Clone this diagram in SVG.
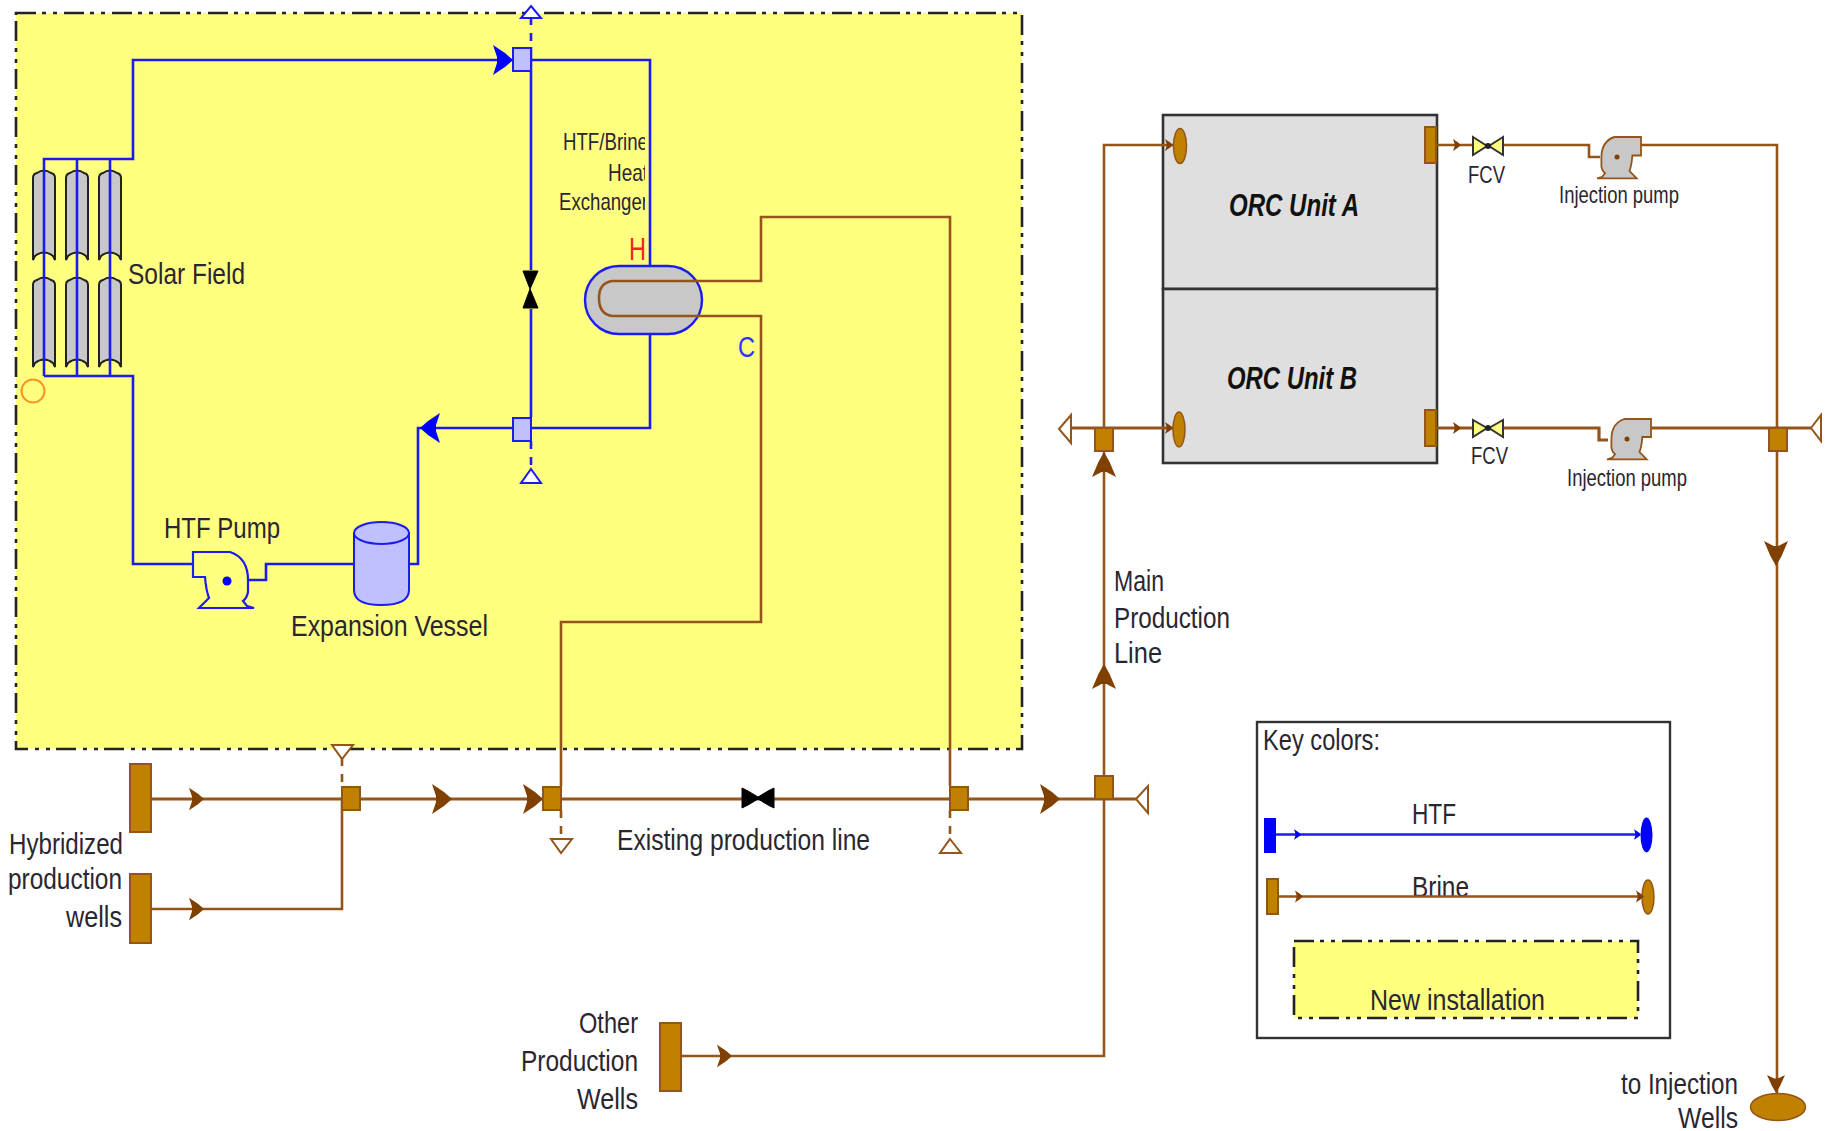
<svg xmlns="http://www.w3.org/2000/svg" xmlns:xlink="http://www.w3.org/1999/xlink" width="1827" height="1131" viewBox="0 0 1827 1131">
<style>
text{font-family:"Liberation Sans",Arial,sans-serif;font-size:30px;fill:#2a2630;}
.sm{font-size:24px;}
.orc{font-size:32px;font-weight:bold;font-style:italic;fill:#111;}
.region{fill:#ffff80;stroke:#222;stroke-width:2.6;stroke-dasharray:20 6 4 7 4 7;}
.b{fill:none;stroke:#1c1cf0;stroke-width:2.6;}
.r{fill:none;stroke:#94551a;stroke-width:2.6;}
.rm{fill:none;stroke:#94551a;stroke-width:3.2;}
.bd{stroke-dasharray:8 8;}
.sqb{fill:#c0c0ff;stroke:#1c1cf0;stroke-width:2;}
.sqr{fill:#c08000;stroke:#94551a;stroke-width:2;}
.well{fill:#c08000;stroke:#94551a;stroke-width:1.5;}
.tb{fill:#fff;stroke:#1c1cf0;stroke-width:2;}
.tr{fill:#fff;stroke:#94551a;stroke-width:2;}
.ab{fill:#0000ff;}
.ar{fill:#804000;}
.col{fill:#c8c8c8;stroke:#222;stroke-width:2;}
.unit{fill:#dfdfdf;stroke:#333;stroke-width:2.6;}
.vk{fill:#000;stroke:#000;stroke-width:1;}
.fcv{fill:#ffff80;stroke:#333;stroke-width:2;}
</style>
<defs>
<path id="arrow" d="M0,0 L-8,-7 L-20,-15 L-16,-3 L-16,3 L-20,15 L-8,7 Z"/>
<path id="collector" d="M0,90 V8 Q0,4 4,3 Q11,-2 18,3 Q22,4 22,8 V90 L20,86 Q11,79 2,86 Z"/>
<path id="pump" d="M0,0 H37 Q55,6 55,28 V40 Q54,46 50,49 L54,54 L61,56 H6 L16,46 Q13,38 12,25 H0 Z"/>
<clipPath id="hxLabelClip"><rect x="540" y="125" width="105" height="100"/></clipPath>
</defs>

<g id="new-installation"><rect class="region" x="16" y="13" width="1006" height="736"/></g>

<g id="solar-field">
<use class="col" href="#collector" x="33" y="170"/>
<use class="col" href="#collector" x="66" y="170"/>
<use class="col" href="#collector" x="99" y="170"/>
<use class="col" href="#collector" x="33" y="277"/>
<use class="col" href="#collector" x="66" y="277"/>
<use class="col" href="#collector" x="99" y="277"/>
</g>
<g id="heat-exchanger"><rect x="585" y="266" width="117" height="68" rx="34" ry="34" fill="#c8c8c8" stroke="#1c1cf0" stroke-width="2.4"/></g>
<g id="orc-unit-a"><rect class="unit" x="1163" y="115" width="274" height="174"/></g>
<g id="orc-unit-b"><rect class="unit" x="1163" y="289" width="274" height="174"/></g>
<g id="legend-box"><rect x="1257" y="722" width="413" height="316" fill="#fff" stroke="#333" stroke-width="2.4"/></g>

<g id="connectors">
<path class="b" d="M44,376 V159 H133 V60 H512"/>
<path class="b" d="M77,159 V376 M110,159 V376"/>
<path class="b" d="M44,376 H133 V564 H193"/>
<path class="b" d="M248,580 H266 V564 H354"/>
<path class="b" d="M409,564 H418 V428 H512"/>
<path class="b" d="M531,60 H650 V266"/>
<path class="b" d="M650,334 V428 H531"/>
<path class="b" d="M531,47 V270 M531,309 V417"/>
<path class="b bd" d="M531,17 V47 M531,441 V468"/>
<path class="r" d="M703,281 H612 Q599,283 599,298 Q599,314 612,316 H703"/>
<path class="r" d="M703,281 H761 V217 H950 V786"/>
<path class="r" d="M703,316 H761 V622 H561 V786"/>
<path class="rm" d="M152,799 H1136"/>
<path class="r" d="M152,909 H342 V799"/>
<path class="r bd" d="M342,758 V786 M561,810 V838 M950,810 V838"/>
<path class="r" d="M681,1056 H1104 V451"/>
<path class="r" d="M1104,428 V145 H1173"/>
<path class="rm" d="M1071,428 H1173"/>
<path class="r" d="M1437,145 H1472 M1503,145 H1589 V157 H1600"/>
<path class="r" d="M1641,145 H1777 V1093"/>
<path class="rm" d="M1437,428 H1472 M1503,428 H1599 V440 H1608"/>
<path class="rm" d="M1650,428 H1811"/>
</g>

<g id="arrowheads">
<use class="ab" href="#arrow" transform="translate(513,60)"/>
<use class="ab" href="#arrow" transform="translate(420,428) rotate(180)"/>
<use class="ar" href="#arrow" transform="translate(204,799) scale(.75)"/>
<use class="ar" href="#arrow" transform="translate(204,909) scale(.75)"/>
<use class="ar" href="#arrow" transform="translate(452,799)"/>
<use class="ar" href="#arrow" transform="translate(543,799)"/>
<use class="ar" href="#arrow" transform="translate(1060,799)"/>
<use class="ar" href="#arrow" transform="translate(732,1056) scale(.75)"/>
<use class="ar" href="#arrow" transform="translate(1104,664) rotate(-90) scale(1.25,.8)"/>
<use class="ar" href="#arrow" transform="translate(1104,452) rotate(-90) scale(1.25,.8)"/>
<use class="ar" href="#arrow" transform="translate(1776,566) rotate(90) scale(1.25,.8)"/>
<use class="ar" href="#arrow" transform="translate(1776,1093) rotate(90) scale(.9,.6)"/>
<use class="ar" href="#arrow" transform="translate(1173,145) scale(.4)"/>
<use class="ar" href="#arrow" transform="translate(1173,428) scale(.4)"/>
<use class="ar" href="#arrow" transform="translate(1461,145) scale(.4)"/>
<use class="ar" href="#arrow" transform="translate(1461,428) scale(.4)"/>
</g>

<g id="labelled-sensor"><circle cx="33" cy="391" r="11.500" fill="none" stroke="#ff9020" stroke-width="2"/></g>
<g id="htf-pump"><use href="#pump" transform="translate(193,552)" fill="#ffff80" stroke="#1c1cf0" stroke-width="2.200"/><circle cx="227" cy="581" r="4.500" fill="#0000ff"/></g>
<g id="expansion-vessel">
<path d="M354,533 V590 Q354,605 381,605 Q409,605 409,590 V533 Z" class="sqb"/>
<ellipse cx="381.500" cy="533" rx="27.500" ry="11" class="sqb"/>
</g>
<g id="junction-top"><rect class="sqb" x="513" y="48" width="18" height="23"/></g>
<g id="junction-bottom"><rect class="sqb" x="513" y="418" width="18" height="23"/></g>
<g id="valve-htf"><polygon class="vk" points="523,271 538,271 530,289 538,308 523,308 530,289"/></g>
<g id="tee-top"><polygon class="tb" points="531,6 541,18 521,18"/></g>
<g id="tee-bottom"><polygon class="tb" points="531,469 541,483 521,483"/></g>

<g id="well-h1"><rect class="sqr" x="130" y="764" width="21" height="68"/></g>
<g id="well-h2"><rect class="sqr" x="130" y="874" width="21" height="69"/></g>
<g id="well-other"><rect class="sqr" x="660" y="1023" width="21" height="68"/></g>
<g id="junction-a"><rect class="sqr" x="342" y="787" width="18" height="23"/></g>
<g id="junction-b"><rect class="sqr" x="543" y="787" width="18" height="23"/></g>
<g id="junction-c"><rect class="sqr" x="950" y="787" width="18" height="23"/></g>
<g id="junction-d"><rect class="sqr" x="1095" y="776" width="18" height="23"/></g>
<g id="junction-e"><rect class="sqr" x="1095" y="428" width="18" height="23"/></g>
<g id="junction-f"><rect class="sqr" x="1769" y="428" width="18" height="23"/></g>
<g id="valve-existing"><polygon class="vk" points="742,788 748,791 758,797 768,791 774,788 774,808 768,805 758,799 748,805 742,808"/></g>
<g id="tee-a"><polygon class="tr" points="332,745 353,745 342,759"/></g>
<g id="tee-b"><polygon class="tr" points="551,839 572,839 561,853"/></g>
<g id="tee-c"><polygon class="tr" points="950,839 961,853 940,853"/></g>
<g id="tee-d"><polygon class="tr" points="1136,799 1148,786 1148,813"/></g>
<g id="tee-e"><polygon class="tr" points="1059,429 1071,415 1071,443"/></g>
<g id="tee-f"><polygon class="tr" points="1811,428 1821,415 1821,441"/></g>

<g id="orc-ports">
<ellipse class="well" cx="1180" cy="146" rx="6.500" ry="17.500"/>
<ellipse class="well" cx="1179" cy="429.500" rx="6" ry="17.500"/>
<rect class="sqr" x="1425" y="127" width="11" height="36"/>
<rect class="sqr" x="1425" y="410" width="11" height="36"/>
</g>
<g id="fcv-a"><polygon class="fcv" points="1473,137 1487,146 1473,155"/><polygon class="fcv" points="1503,137 1489,146 1503,155"/><circle cx="1488" cy="146" r="3" fill="#222"/></g>
<g id="fcv-b"><polygon class="fcv" points="1473,420 1487,428 1473,437"/><polygon class="fcv" points="1503,420 1489,428 1503,437"/><circle cx="1488" cy="428" r="3" fill="#222"/></g>
<g id="injection-pump-a"><use href="#pump" transform="translate(1641,137) scale(-.72,.74)" fill="#c8c8c8" stroke="#94551a" stroke-width="2.500"/><circle cx="1617" cy="157" r="2.500" fill="#804000"/></g>
<g id="injection-pump-b"><use href="#pump" transform="translate(1651,419) scale(-.72,.72)" fill="#c8c8c8" stroke="#94551a" stroke-width="2.500"/><circle cx="1627" cy="439" r="2.500" fill="#804000"/></g>
<g id="injection-wells"><ellipse class="well" cx="1778" cy="1107" rx="27.500" ry="13.500"/></g>

<g id="legend-items">
<rect x="1264" y="818" width="12" height="35" fill="#0000ff"/>
<path class="b" d="M1276,834.500 H1640"/>
<use class="ab" href="#arrow" transform="translate(1301,834.500) scale(.35)"/>
<use class="ab" href="#arrow" transform="translate(1641,834.500) scale(.35)"/>
<ellipse cx="1646.500" cy="835" rx="6" ry="17.500" fill="#0000ff"/>
<rect class="sqr" x="1267" y="879" width="11" height="35"/>
<ellipse class="well" cx="1648" cy="897" rx="6" ry="17"/>
<text x="1412" y="897" textLength="57" lengthAdjust="spacingAndGlyphs">Brine</text>
<path class="r" d="M1278,896.500 H1643"/>
<use class="ar" href="#arrow" transform="translate(1303,896.500) scale(.4)"/>
<use class="ar" href="#arrow" transform="translate(1644,896.500) scale(.4)"/>
<rect class="region" x="1294" y="941" width="344" height="77"/>
<text x="1412" y="824" textLength="44" lengthAdjust="spacingAndGlyphs">HTF</text>
<text x="1263" y="750" textLength="117" lengthAdjust="spacingAndGlyphs">Key colors:</text>
<text x="1370" y="1010" textLength="175" lengthAdjust="spacingAndGlyphs">New installation</text>
</g>

<g id="labels">
<text x="128" y="284" textLength="117" lengthAdjust="spacingAndGlyphs">Solar Field</text>
<text x="164" y="538" textLength="116" lengthAdjust="spacingAndGlyphs">HTF Pump</text>
<text x="291" y="636" textLength="197" lengthAdjust="spacingAndGlyphs">Expansion Vessel</text>
<g clip-path="url(#hxLabelClip)">
<text class="sm" x="563" y="150" textLength="85" lengthAdjust="spacingAndGlyphs">HTF/Brine</text>
<text class="sm" x="608" y="181" textLength="40" lengthAdjust="spacingAndGlyphs">Heat</text>
<text class="sm" x="559" y="210" textLength="89" lengthAdjust="spacingAndGlyphs">Exchanger</text>
</g>
<text x="629" y="260" textLength="17" lengthAdjust="spacingAndGlyphs" style="fill:#ff2020;font-size:32px">H</text>
<text x="738" y="357" textLength="17" lengthAdjust="spacingAndGlyphs" style="fill:#3030ff;font-size:30px">C</text>
<text x="9" y="854" textLength="114" lengthAdjust="spacingAndGlyphs">Hybridized</text>
<text x="8" y="889" textLength="114" lengthAdjust="spacingAndGlyphs">production</text>
<text x="66" y="927" textLength="56" lengthAdjust="spacingAndGlyphs">wells</text>
<text x="617" y="850" textLength="253" lengthAdjust="spacingAndGlyphs">Existing production line</text>
<text x="579" y="1033" textLength="59" lengthAdjust="spacingAndGlyphs">Other</text>
<text x="521" y="1071" textLength="117" lengthAdjust="spacingAndGlyphs">Production</text>
<text x="577" y="1109" textLength="61" lengthAdjust="spacingAndGlyphs">Wells</text>
<text x="1114" y="591" textLength="50" lengthAdjust="spacingAndGlyphs">Main</text>
<text x="1114" y="628" textLength="116" lengthAdjust="spacingAndGlyphs">Production</text>
<text x="1114" y="663" textLength="48" lengthAdjust="spacingAndGlyphs">Line</text>
<text class="orc" x="1229" y="216" textLength="130" lengthAdjust="spacingAndGlyphs">ORC Unit A</text>
<text class="orc" x="1227" y="389" textLength="130" lengthAdjust="spacingAndGlyphs">ORC Unit B</text>
<text class="sm" x="1468" y="183" textLength="37" lengthAdjust="spacingAndGlyphs">FCV</text>
<text class="sm" x="1471" y="464" textLength="37" lengthAdjust="spacingAndGlyphs">FCV</text>
<text class="sm" x="1559" y="203" textLength="120" lengthAdjust="spacingAndGlyphs">Injection pump</text>
<text class="sm" x="1567" y="486" textLength="120" lengthAdjust="spacingAndGlyphs">Injection pump</text>
<text x="1621" y="1094" textLength="117" lengthAdjust="spacingAndGlyphs">to Injection</text>
<text x="1678" y="1128" textLength="60" lengthAdjust="spacingAndGlyphs">Wells</text>
</g>
</svg>
